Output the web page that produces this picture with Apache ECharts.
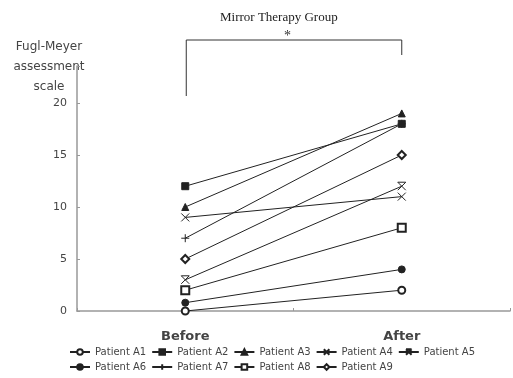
<!DOCTYPE html>
<html>
<head>
<meta charset="utf-8">
<script src="https://cdn.jsdelivr.net/npm/echarts@6/dist/echarts.min.js"></script>
<style>html,body{margin:0;padding:0;background:#fff}#c{width:513px;height:378px}</style>
</head>
<body>
<div id="c"></div>
<script>
const categories = ['Before', 'After'];
const patients = ['Patient A1','Patient A2','Patient A3','Patient A4','Patient A5','Patient A6','Patient A7','Patient A8','Patient A9'];
const before = [0, 12, 10, 9, 3, 0.8, 7, 2, 5];
const after  = [2, 18, 19, 11, 12, 4, 18, 8, 15];
const yTicks = [0, 5, 10, 15, 20];

const symbols = [
  'emptyCircle', 'rect', 'triangle',
  'path://M0,0L10,10M10,0L0,10',
  'path://M0,0L10,0M0,0L10,10M10,0L0,10',
  'circle',
  'path://M5,0L5,10M0,5L10,5',
  'emptyRect', 'emptyDiamond'
];
const sizes = [7, 7, 7, 8, 8, 7, 8, 8, 8];
const ink = '#222';

const chart = echarts.init(document.getElementById('c'));
const series = patients.map((name, i) => ({
  name: name,
  type: 'line',
  data: [before[i], after[i]],
  symbol: symbols[i],
  symbolSize: sizes[i],
  showAllSymbol: true,
  lineStyle: { color: ink, width: 1 },
  itemStyle: { color: ink, borderColor: ink, borderWidth: 1 },
  emphasis: { disabled: true },
  animation: false
}));

chart.setOption({
  animation: false,
  title: {
    text: 'Mirror Therapy Group',
    left: 215, top: 6,
    textStyle: { fontFamily: 'Liberation Serif', fontSize: 13, fontWeight: 'normal', color: '#222' }
  },
  grid: { left: 77, right: 3, top: 66, bottom: 67 },
  xAxis: {
    type: 'category',
    data: categories,
    boundaryGap: true,
    axisLine: { lineStyle: { color: '#999', width: 1.5 } },
    axisTick: { show: true, inside: true, length: 3, lineStyle: { color: '#999' } },
    axisLabel: { margin: 19, fontFamily: 'DejaVu Sans', fontSize: 13, fontWeight: 'bold', color: '#444' },
    splitLine: { show: false }
  },
  yAxis: {
    type: 'value',
    min: 0, max: 23.56, interval: 5,
    axisLine: { show: true, lineStyle: { color: '#999', width: 1.5 } },
    axisTick: { show: true, inside: true, length: 3, lineStyle: { color: '#999' } },
    axisLabel: {
      margin: 10, fontFamily: 'DejaVu Sans', fontSize: 11, color: '#444',
      formatter: v => (yTicks.indexOf(v) >= 0 ? String(v) : '')
    },
    splitLine: { show: false }
  },
  legend: {
    data: patients,
    left: 69, top: 347, width: 412,
    padding: 0,
    itemGap: 5,
    itemWidth: 20, itemHeight: 7,
    textStyle: { fontFamily: 'DejaVu Sans', fontSize: 10, color: '#444' },
    selectedMode: false
  },
  series: series
});

const xB = chart.convertToPixel({ xAxisIndex: 0 }, categories[0]);
const xA = chart.convertToPixel({ xAxisIndex: 0 }, categories[1]);
chart.setOption({
  graphic: [
    {
      type: 'polyline',
      shape: { points: [[xB + 1, 96], [xB + 1, 40], [xA, 40], [xA, 55]] },
      style: { stroke: '#333', lineWidth: 1, fill: null }
    },
    {
      type: 'text', x: (xB + xA) / 2 - 6, y: 29,
      style: { text: '*', font: '14px "Liberation Serif"', fill: '#333', align: 'center', verticalAlign: 'top' }
    },
    {
      type: 'text', x: 49, y: 37,
      style: {
        text: 'Fugl-Meyer\nassessment\nscale',
        font: '12px "DejaVu Sans"', fill: '#444', align: 'center', verticalAlign: 'top', lineHeight: 20
      }
    }
  ]
});
</script>
</body>
</html>
